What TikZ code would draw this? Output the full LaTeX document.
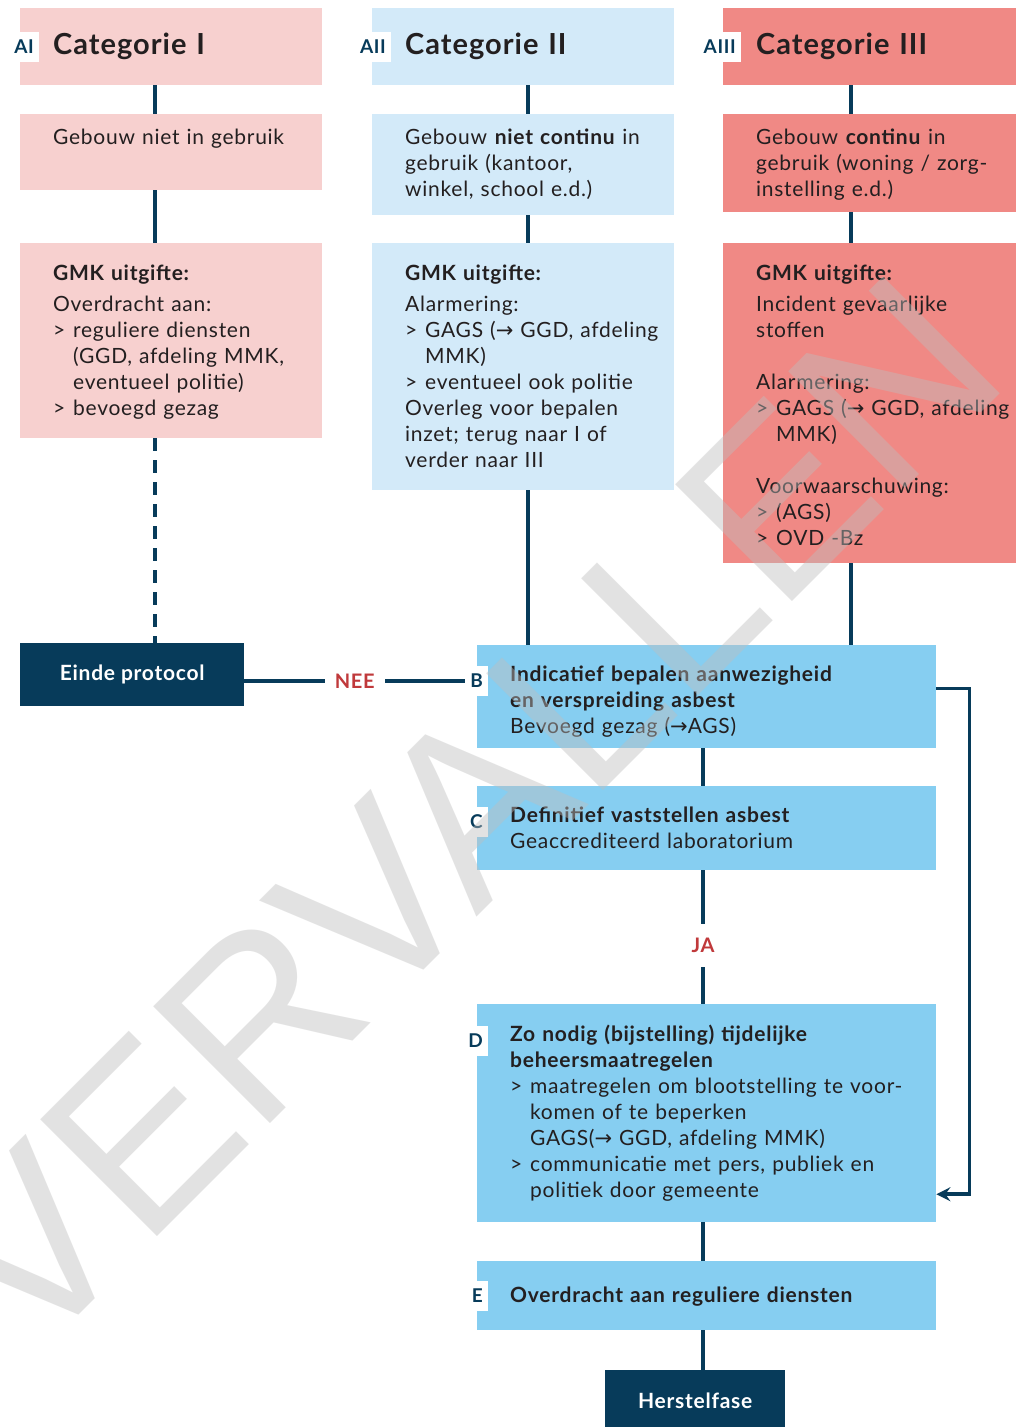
\documentclass[tikz,border=0pt]{standalone}
\usepackage{fontspec}
\setmainfont{Lato}[LetterSpace=3.5]
\newfontfamily\wmfont{Liberation Sans}
\newfontfamily\arrfont{DejaVu Sans}
\usetikzlibrary{arrows.meta}

\definecolor{navy}{RGB}{7,59,90}
\definecolor{roseI}{RGB}{247,208,207}
\definecolor{skyII}{RGB}{211,234,249}
\definecolor{salmonIII}{RGB}{240,137,133}
\definecolor{stepblue}{RGB}{134,206,241}
\definecolor{answerred}{RGB}{192,57,59}
\definecolor{ink}{RGB}{35,31,32}
\definecolor{wmgray}{RGB}{190,190,190}

\newcommand{\pijl}{{\arrfont\char"2192}}
\newcommand{\itm}{\makebox[20pt][l]{>}}
\newcommand{\ind}{\hspace*{20pt}}

\tikzset{
  box/.style={rectangle, anchor=north west, inner sep=0pt, align=left, text=ink,
    font=\fontsize{21}{26}\selectfont,
    execute at begin node={\leftskip=33pt\hyphenpenalty=10000\exhyphenpenalty=10000}},
  col1/.style={box, fill=roseI, text width=302pt},
  col2/.style={box, fill=skyII, text width=302pt},
  col3/.style={box, fill=salmonIII, text width=293pt},
  stepbox/.style={box, fill=stepblue, text width=459pt},
  title/.style={font=\bfseries\fontsize{29}{36}\selectfont, minimum height=77pt},
  endbox/.style={rectangle, anchor=north west, fill=navy, text=white,
    font=\bfseries\fontsize{21}{26}\selectfont},
  tag/.style={anchor=east, fill=white, text=navy, inner xsep=5pt, inner ysep=8pt,
    font=\bfseries\fontsize{19}{19}\selectfont},
  conn/.style={draw=navy, line width=3.5pt},
  answer/.style={fill=white, text=answerred, inner xsep=10pt, inner ysep=14pt,
    font=\bfseries\fontsize{20}{24}\selectfont},
  wm/.style={anchor=base west, rotate=45, inner sep=0pt, text=wmgray,
    text opacity=0.43, font=\wmfont\fontsize{240}{240}\selectfont}}

\begin{document}
\begin{tikzpicture}[x=1pt, y=-1pt]
    \useasboundingbox (0,0) rectangle (1016,1427);
    \fill[white] (0,0) rectangle (1016,1427);
    \coordinate (x1) at (155,0);
    \coordinate (x2) at (528,0);
    \coordinate (x3) at (851,0);
    \coordinate (xm) at (703,0);

    \node[col1, title] (cat1) at (20,8) {Categorie I};
    \node[col2, title] (cat2) at (372,8) {Categorie II};
    \node[col3, title] (cat3) at (723,8) {Categorie III};
    \node[tag] (a1) at ([xshift=19pt]cat1.west) {AI};
    \node[tag] (a2) at ([xshift=19pt]cat2.west) {AII};
    \node[tag] (a3) at ([xshift=18pt]cat3.west) {AIII};

    \node[col1, minimum height=76pt, text height=30pt, text depth=46pt] (use1) at (20,114)
      {Gebouw niet in gebruik};
    \node[col2, minimum height=101pt, text height=30pt, text depth=71pt] (use2) at (372,114)
      {Gebouw \textbf{niet continu} in\\gebruik (kantoor,\\winkel, school e.d.)};
    \node[col3, minimum height=98pt, text height=30pt, text depth=68pt] (use3) at (723,114)
      {Gebouw \textbf{continu} in\\gebruik (woning / zorg-\\instelling e.d.)};

    \node[col1, minimum height=195pt, text height=37pt, text depth=158pt] (gmk1) at (20,243)
      {\textbf{GMK uitgifte:}\\[5pt]Overdracht aan:\\\itm reguliere diensten\\\ind(GGD, afdeling MMK,\\\ind eventueel politie)\\\itm bevoegd gezag};
    \node[col2, minimum height=247pt, text height=37pt, text depth=210pt] (gmk2) at (372,243)
      {\textbf{GMK uitgifte:}\\[5pt]Alarmering:\\\itm GAGS (\pijl\ GGD, afdeling\\\ind MMK)\\\itm eventueel ook politie\\Overleg voor bepalen\\inzet; terug naar I of\\verder naar III};
    \node[col3, minimum height=320pt, text height=37pt, text depth=283pt] (gmk3) at (723,243)
      {\textbf{GMK uitgifte:}\\[5pt]Incident gevaarlijke\\stoffen\\[26pt]Alarmering:\\\itm GAGS (\pijl\ GGD, afdeling\\\ind MMK)\\[26pt]Voorwaarschuwing:\\\itm (AGS)\\\itm OVD -Bz};

    \node[endbox, minimum width=224pt, minimum height=63pt] (einde) at (20,643) {Einde protocol};

    \node[stepbox, minimum height=103pt, text height=36pt, text depth=67pt] (stepB) at (477,645)
      {\textbf{Indicatief bepalen aanwezigheid}\\\textbf{en verspreiding asbest}\\Bevoegd gezag (\pijl AGS)};
    \node[stepbox, minimum height=84pt, text height=36pt, text depth=48pt] (stepC) at (477,786)
      {\textbf{Definitief vaststellen asbest}\\Geaccrediteerd laboratorium};
    \node[stepbox, minimum height=218pt, text height=37pt, text depth=181pt] (stepD) at (477,1004)
      {\textbf{Zo nodig (bijstelling) tijdelijke}\\\textbf{beheersmaatregelen}\\\itm maatregelen om blootstelling te voor-\\\ind komen of te beperken\\\ind GAGS(\pijl\ GGD, afdeling MMK)\\\itm communicatie met pers, publiek en\\\ind politiek door gemeente};
    \node[stepbox, minimum height=69pt, text height=41pt, text depth=28pt] (stepE) at (477,1261)
      {\textbf{Overdracht aan reguliere diensten}};
    \node[endbox, minimum width=180pt, minimum height=62pt] (herstel) at (605,1370) {Herstelfase};

    \node[tag] (tB) at ([xshift=11pt,yshift=-36pt]stepB.north west) {B};
    \node[tag] (tC) at ([xshift=11pt,yshift=-36pt]stepC.north west) {C};
    \node[tag] (tD) at ([xshift=11pt,yshift=-37pt]stepD.north west) {D};
    \node[tag] (tE) at ([xshift=11pt]stepE.west) {E};

    \draw[conn] (cat1.south -| x1) -- (use1.north -| x1);
    \draw[conn] (use1.south -| x1) -- (gmk1.north -| x1);
    \draw[conn, dash pattern=on 13pt off 9pt] (gmk1.south -| x1) -- (einde.north -| x1);
    \draw[conn] (cat2.south -| x2) -- (use2.north -| x2);
    \draw[conn] (use2.south -| x2) -- (gmk2.north -| x2);
    \draw[conn] (gmk2.south -| x2) -- (stepB.north -| x2);
    \draw[conn] (cat3.south -| x3) -- (use3.north -| x3);
    \draw[conn] (use3.south -| x3) -- (gmk3.north -| x3);
    \draw[conn] (gmk3.south -| x3) -- (stepB.north -| x3);
    \draw[conn] (einde.east |- tB) -- (tB.west) node[midway, answer] {NEE};
    \draw[conn] (stepB.south -| xm) -- (stepC.north -| xm);
    \draw[conn] (stepC.south -| xm) -- (stepD.north -| xm) node[pos=0.56, answer] {JA};
    \draw[conn] (stepD.south -| xm) -- (stepE.north -| xm);
    \draw[conn] (stepE.south -| xm) -- (herstel.north -| xm);
    \draw[conn, -{Stealth[length=14pt, width=14pt, inset=5pt]}] ([yshift=8pt]stepB.east) -- ++(33,0) |- ([yshift=-81pt]stepD.east);

    \node[wm] (verv) at (30,1364) {VERVALLEN};
\end{tikzpicture}
\end{document}
